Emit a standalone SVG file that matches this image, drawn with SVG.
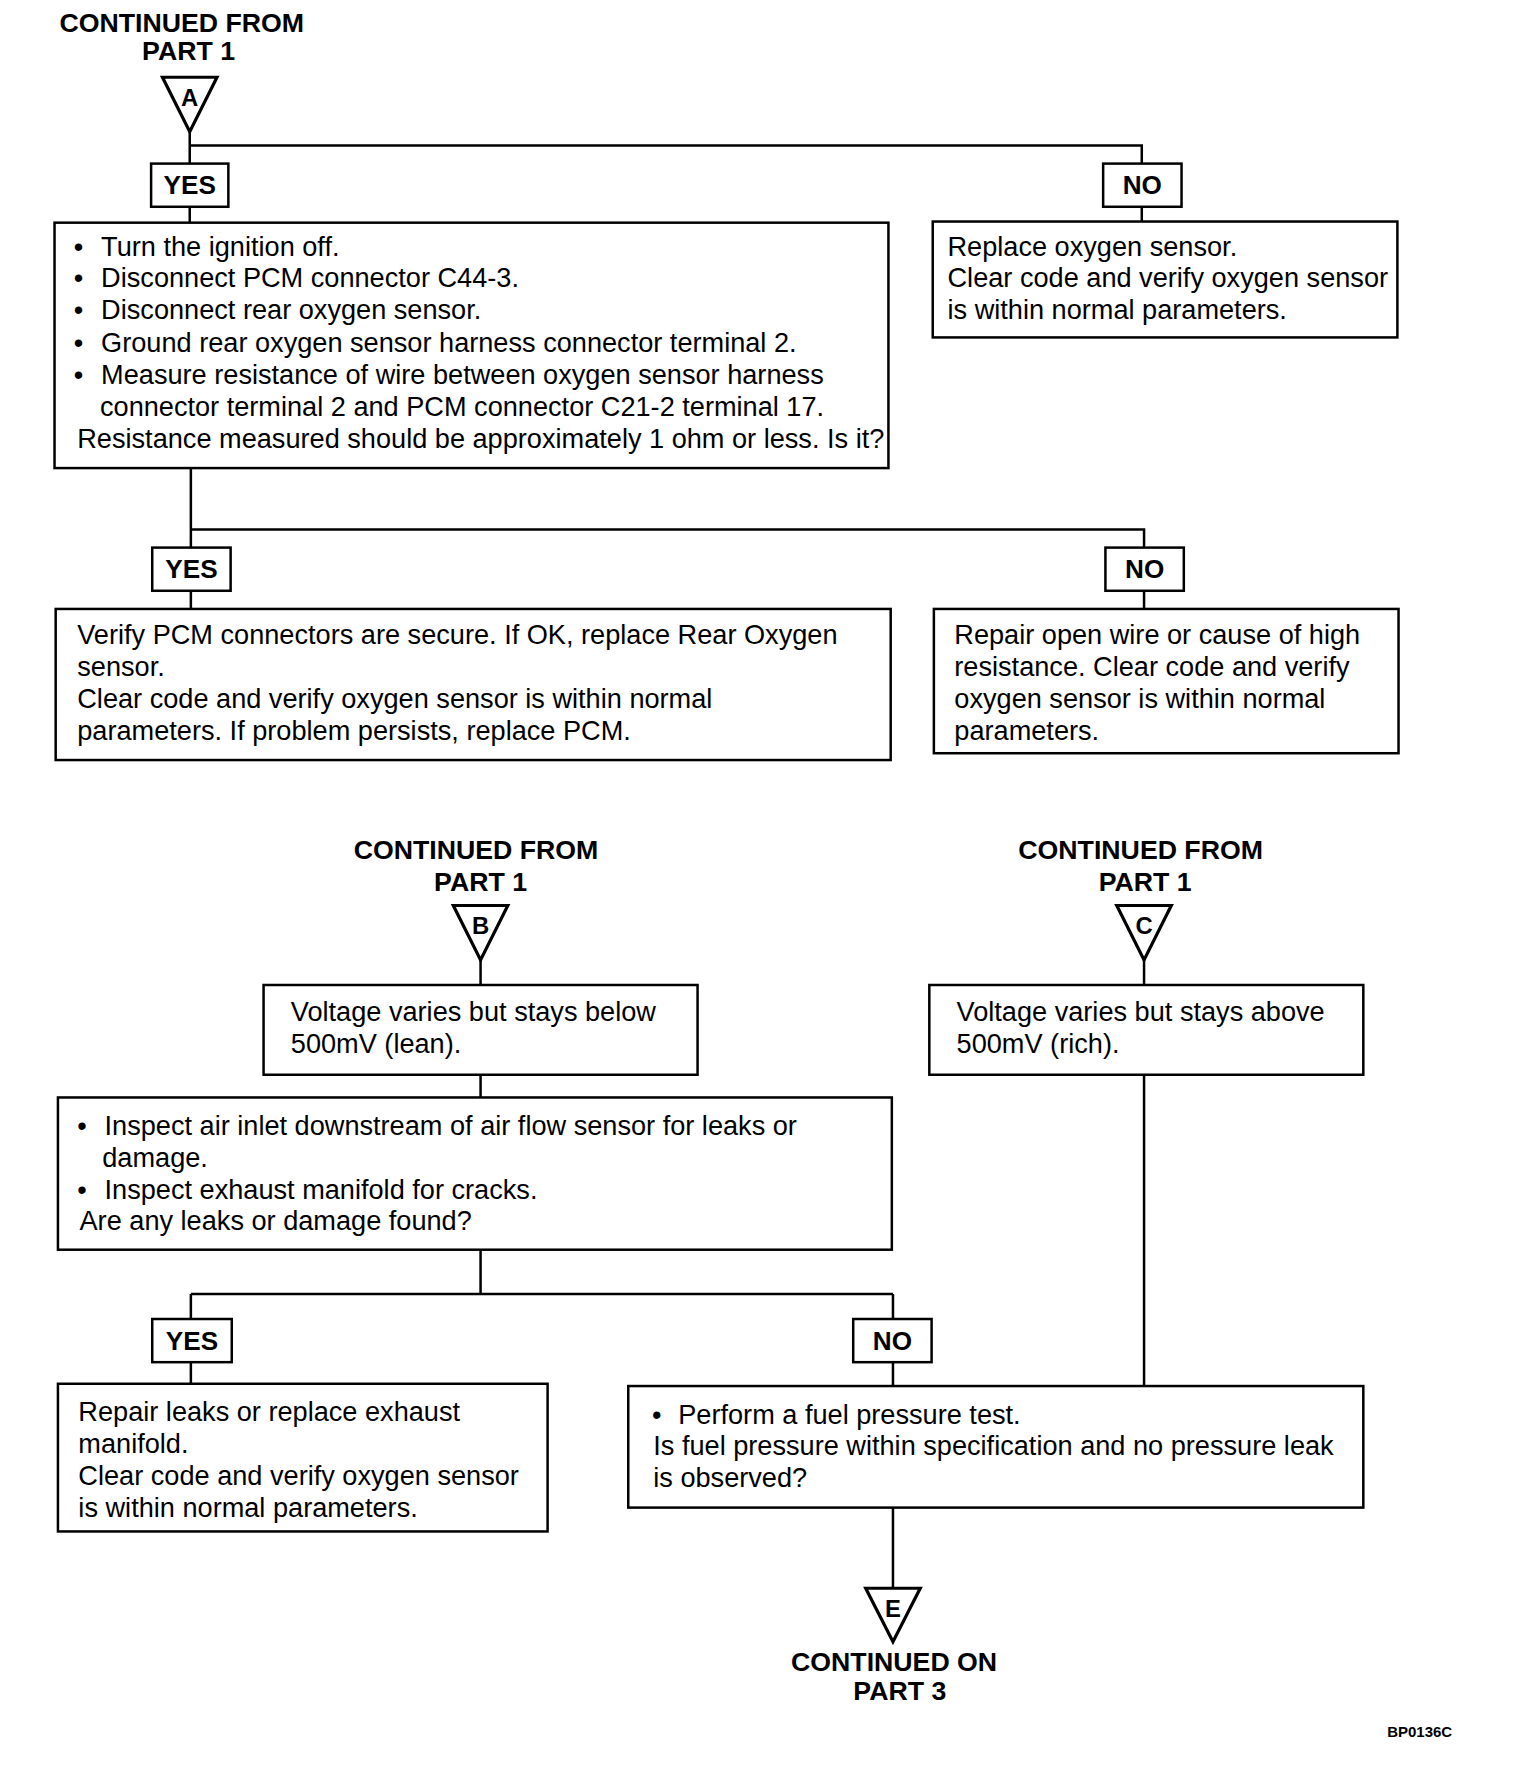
<svg xmlns="http://www.w3.org/2000/svg" width="1536" height="1782" viewBox="0 0 1536 1782">
<style>
.box{fill:#fff;stroke:#000;stroke-width:2.2}
.tri{fill:#fff;stroke:#000;stroke-width:2.8;stroke-linejoin:miter}
.ln{fill:none;stroke:#000;stroke-width:2.2}
.t{font-family:"Liberation Sans",Arial,sans-serif;font-size:23.9px;fill:#000}
.b{font-family:"Liberation Sans",Arial,sans-serif;font-weight:bold;font-size:23px;fill:#000}
.h{font-family:"Liberation Sans",Arial,sans-serif;font-weight:bold;font-size:23.5px;fill:#000;text-anchor:middle}
.l{font-family:"Liberation Sans",Arial,sans-serif;font-weight:bold;font-size:21px;fill:#000;text-anchor:middle}
.c{text-anchor:middle}
</style>
<rect x="0" y="0" width="1536" height="1782" fill="#fff"/>
<g transform="scale(1.136095)">
<g id="connectors">
<path class="ln" d="M167,116V144M167,128H1005V144M167,182V196M1005,182V195"/>
<path class="ln" d="M168,412V482M168,466H1007V482M168,520V536M1007,520V536"/>
<path class="ln" d="M423,845V867M423,946V966M423,1100V1139M168,1139H786M168,1139V1161M786,1139V1161M168,1199V1218M786,1199V1220"/>
<path class="ln" d="M1007,845V867M1007,946V1220M786,1327V1398"/>
</g>
<g id="startA">
<text class="h" x="160" y="28">CONTINUED FROM</text>
<text class="h" x="166" y="53">PART 1</text>
<polygon class="tri" points="143,68 191,68 167,116"/>
<text class="l" x="167" y="93">A</text>
</g>
<g id="yes1"><rect class="box" x="133" y="144" width="68" height="38"/><text class="b c" x="167" y="171">YES</text></g>
<g id="no1"><rect class="box" x="971" y="144" width="69" height="38"/><text class="b c" x="1005.5" y="171">NO</text></g>
<g id="box1">
<rect class="box" x="48" y="196" width="734" height="216"/>
<text class="t" x="65" y="225">•</text><text class="t" x="89" y="225">Turn the ignition off.</text>
<text class="t" x="65" y="253">•</text><text class="t" x="89" y="253">Disconnect PCM connector C44-3.</text>
<text class="t" x="65" y="281">•</text><text class="t" x="89" y="281">Disconnect rear oxygen sensor.</text>
<text class="t" x="65" y="310">•</text><text class="t" x="89" y="310">Ground rear oxygen sensor harness connector terminal 2.</text>
<text class="t" x="65" y="338">•</text><text class="t" x="89" y="338">Measure resistance of wire between oxygen sensor harness</text>
<text class="t" x="88" y="366">connector terminal 2 and PCM connector C21-2 terminal 17.</text>
<text class="t" x="68" y="394">Resistance measured should be approximately 1 ohm or less. Is it?</text>
</g>
<g id="box2">
<rect class="box" x="821" y="195" width="409" height="102"/>
<text class="t" x="834" y="225">Replace oxygen sensor.</text>
<text class="t" x="834" y="253">Clear code and verify oxygen sensor</text>
<text class="t" x="834" y="281">is within normal parameters.</text>
</g>
<g id="yes2"><rect class="box" x="134" y="482" width="69" height="38"/><text class="b c" x="168.5" y="509">YES</text></g>
<g id="no2"><rect class="box" x="973" y="482" width="69" height="38"/><text class="b c" x="1007.5" y="509">NO</text></g>
<g id="box3">
<rect class="box" x="49" y="536" width="735" height="133"/>
<text class="t" x="68" y="567">Verify PCM connectors are secure. If OK, replace Rear Oxygen</text>
<text class="t" x="68" y="595">sensor.</text>
<text class="t" x="68" y="623">Clear code and verify oxygen sensor is within normal</text>
<text class="t" x="68" y="651">parameters. If problem persists, replace PCM.</text>
</g>
<g id="box4">
<rect class="box" x="822" y="536" width="409" height="127"/>
<text class="t" x="840" y="567">Repair open wire or cause of high</text>
<text class="t" x="840" y="595">resistance. Clear code and verify</text>
<text class="t" x="840" y="623">oxygen sensor is within normal</text>
<text class="t" x="840" y="651">parameters.</text>
</g>
<g id="startB">
<text class="h" x="419" y="756">CONTINUED FROM</text>
<text class="h" x="423" y="784">PART 1</text>
<polygon class="tri" points="399,797 447,797 423,845"/>
<text class="l" x="423" y="822">B</text>
</g>
<g id="startC">
<text class="h" x="1004" y="756">CONTINUED FROM</text>
<text class="h" x="1008" y="784">PART 1</text>
<polygon class="tri" points="983,797 1031,797 1007,845"/>
<text class="l" x="1007" y="822">C</text>
</g>
<g id="box5">
<rect class="box" x="232" y="867" width="382" height="79"/>
<text class="t" x="256" y="899">Voltage varies but stays below</text>
<text class="t" x="256" y="927">500mV (lean).</text>
</g>
<g id="box9">
<rect class="box" x="818" y="867" width="382" height="79"/>
<text class="t" x="842" y="899">Voltage varies but stays above</text>
<text class="t" x="842" y="927">500mV (rich).</text>
</g>
<g id="box6">
<rect class="box" x="51" y="966" width="734" height="134"/>
<text class="t" x="68" y="999">•</text><text class="t" x="92" y="999">Inspect air inlet downstream of air flow sensor for leaks or</text>
<text class="t" x="90" y="1027">damage.</text>
<text class="t" x="68" y="1055">•</text><text class="t" x="92" y="1055">Inspect exhaust manifold for cracks.</text>
<text class="t" x="70" y="1083">Are any leaks or damage found?</text>
</g>
<g id="yes3"><rect class="box" x="134" y="1161" width="70" height="38"/><text class="b c" x="169" y="1188">YES</text></g>
<g id="no3"><rect class="box" x="751" y="1161" width="69" height="38"/><text class="b c" x="785.5" y="1188">NO</text></g>
<g id="box7">
<rect class="box" x="51" y="1218" width="431" height="130"/>
<text class="t" x="69" y="1251">Repair leaks or replace exhaust</text>
<text class="t" x="69" y="1279">manifold.</text>
<text class="t" x="69" y="1307">Clear code and verify oxygen sensor</text>
<text class="t" x="69" y="1335">is within normal parameters.</text>
</g>
<g id="box8">
<rect class="box" x="553" y="1220" width="647" height="107"/>
<text class="t" x="574" y="1253">•</text><text class="t" x="597" y="1253">Perform a fuel pressure test.</text>
<text class="t" x="575" y="1281">Is fuel pressure within specification and no pressure leak</text>
<text class="t" x="575" y="1309">is observed?</text>
</g>
<g id="endE">
<polygon class="tri" points="762,1398 810,1398 786,1445"/>
<text class="l" x="786" y="1423">E</text>
<text class="h" x="787" y="1471">CONTINUED ON</text>
<text class="h" x="792" y="1496">PART 3</text>
</g>
<text x="1221" y="1529" font-family="Liberation Sans, Arial, sans-serif" font-weight="bold" font-size="13.2">BP0136C</text>
</g>
</svg>
